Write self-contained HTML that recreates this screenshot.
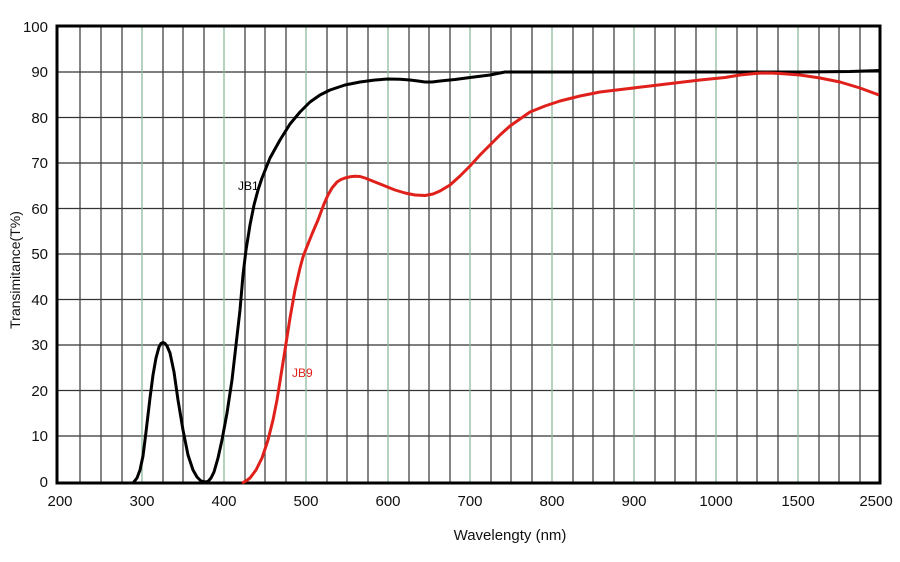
<!DOCTYPE html>
<html><head><meta charset="utf-8"><style>
body{margin:0;background:#fff;}
svg{display:block;font-family:"Liberation Sans",Arial,sans-serif;}
</style></head><body>
<svg width="900" height="562" viewBox="0 0 900 562" xmlns="http://www.w3.org/2000/svg">
<rect width="900" height="562" fill="#fff"/>
<g stroke="#333" stroke-width="1.3">
<line x1="57" x2="880" y1="72" y2="72"/>
<line x1="57" x2="880" y1="117.5" y2="117.5"/>
<line x1="57" x2="880" y1="163" y2="163"/>
<line x1="57" x2="880" y1="208.5" y2="208.5"/>
<line x1="57" x2="880" y1="254" y2="254"/>
<line x1="57" x2="880" y1="299.5" y2="299.5"/>
<line x1="57" x2="880" y1="345" y2="345"/>
<line x1="57" x2="880" y1="390.5" y2="390.5"/>
<line x1="57" x2="880" y1="436" y2="436"/>
</g>
<g stroke="#444" stroke-width="1.3">
<line x1="80" x2="80" y1="26" y2="482"/><line x1="101" x2="101" y1="26" y2="482"/><line x1="122" x2="122" y1="26" y2="482"/>
<line x1="163" x2="163" y1="26" y2="482"/><line x1="183" x2="183" y1="26" y2="482"/><line x1="204" x2="204" y1="26" y2="482"/>
<line x1="245" x2="245" y1="26" y2="482"/><line x1="265" x2="265" y1="26" y2="482"/><line x1="286" x2="286" y1="26" y2="482"/>
<line x1="327" x2="327" y1="26" y2="482"/><line x1="347" x2="347" y1="26" y2="482"/><line x1="368" x2="368" y1="26" y2="482"/>
<line x1="409" x2="409" y1="26" y2="482"/><line x1="429" x2="429" y1="26" y2="482"/><line x1="450" x2="450" y1="26" y2="482"/>
<line x1="491" x2="491" y1="26" y2="482"/><line x1="511" x2="511" y1="26" y2="482"/><line x1="532" x2="532" y1="26" y2="482"/>
<line x1="573" x2="573" y1="26" y2="482"/><line x1="593" x2="593" y1="26" y2="482"/><line x1="614" x2="614" y1="26" y2="482"/>
<line x1="655" x2="655" y1="26" y2="482"/><line x1="675" x2="675" y1="26" y2="482"/><line x1="696" x2="696" y1="26" y2="482"/>
<line x1="737" x2="737" y1="26" y2="482"/><line x1="757" x2="757" y1="26" y2="482"/><line x1="778" x2="778" y1="26" y2="482"/>
<line x1="819" x2="819" y1="26" y2="482"/><line x1="839" x2="839" y1="26" y2="482"/><line x1="860" x2="860" y1="26" y2="482"/>
</g>
<g stroke="#8fb89a" stroke-width="1.3">
<line x1="142" x2="142" y1="26" y2="482"/><line x1="224" x2="224" y1="26" y2="482"/><line x1="306" x2="306" y1="26" y2="482"/>
<line x1="388" x2="388" y1="26" y2="482"/><line x1="470" x2="470" y1="26" y2="482"/><line x1="552" x2="552" y1="26" y2="482"/>
<line x1="634" x2="634" y1="26" y2="482"/><line x1="716" x2="716" y1="26" y2="482"/><line x1="798" x2="798" y1="26" y2="482"/>
</g>
<rect x="57" y="26" width="823" height="457" fill="none" stroke="#000" stroke-width="3"/>
<polyline fill="none" stroke="#000" stroke-width="3" stroke-linejoin="round" points="57,483 133,483 137,478 140,470 143,456 146,432 150,398 153,375 156,358 159,347 161,343.5 163,342.5 165,343.5 167,346 170,353 174,372 178,400 183,430 188,455 193,470 197,477 201,481 205,482 208,481.5 211,478 214,472 218,458 222,440 227,413 232,380 236,345 240,310 243,275 246,250 250,225 254,205 258,190 262,178 270,158 280,140 290,124 300,112 310,102 320,95 330,90 345,85 360,82 375,80 388,79 400,79.3 410,80 418,81 425,82 432,82 440,81 455,79.5 470,77.5 490,75 500,73 505,72 600,72 700,72 800,72 850,71.5 880,70.5"/>
<polyline fill="none" stroke="#e0201a" stroke-width="3" stroke-linejoin="round" points="242,483 246,481 250,478 256,470 262,458 268,440 273,420 277,400 281,375 285,350 290,318 295,290 300,268 303,257 306,249 312,234 318,220 324,204 328,195 332,188 337,182 341,179.5 345,178 350,176.8 355,176.2 360,176.5 365,178 375,182 385,186 395,190 405,193 415,195 425,195.5 433,194 440,191 450,185 460,176 470,166 480,155 490,145 500,135 510,126 520,119 530,112 545,106 560,101 580,96 600,92 625,89 650,86 675,83 700,80 725,77.5 740,75 750,74 758,73.2 765,73 772,73.1 780,73.5 800,75 820,78 840,82 860,88 879,95"/>
<g font-size="15" fill="#111" text-anchor="end">
<text x="48" y="32">100</text><text x="48" y="77">90</text><text x="48" y="123">80</text><text x="48" y="168">70</text>
<text x="48" y="214">60</text><text x="48" y="259">50</text><text x="48" y="305">40</text><text x="48" y="350">30</text>
<text x="48" y="396">20</text><text x="48" y="441">10</text><text x="48" y="487">0</text>
</g>
<g font-size="15" fill="#111" text-anchor="middle">
<text x="60" y="506">200</text><text x="142" y="506">300</text><text x="224" y="506">400</text><text x="306" y="506">500</text>
<text x="388" y="506">600</text><text x="470" y="506">700</text><text x="552" y="506">800</text><text x="634" y="506">900</text>
<text x="716" y="506">1000</text><text x="798" y="506">1500</text><text x="876" y="506">2500</text>
<text x="510" y="540">Wavelengty (nm)</text>
</g>
<text transform="translate(20,270) rotate(-90)" font-size="14" text-anchor="middle" fill="#111">Transimitance(T%)</text>
<text x="238" y="190" font-size="12" fill="#000">JB1</text>
<text x="292" y="377" font-size="12" fill="#e0201a">JB9</text>
</svg>
</body></html>
